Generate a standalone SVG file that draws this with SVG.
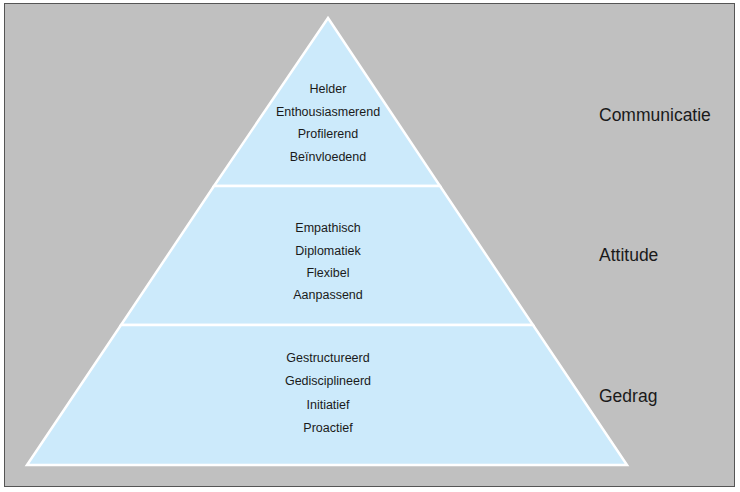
<svg xmlns="http://www.w3.org/2000/svg" width="740" height="492" viewBox="0 0 740 492">
<style>
.t{font-family:"Liberation Sans",Arial,sans-serif;font-size:12.5px;fill:#1a1a1a;text-anchor:middle}
.l{font-family:"Liberation Sans",Arial,sans-serif;font-size:17.5px;fill:#1a1a1a}
.s{fill:#cceafb;stroke:#ffffff;stroke-width:2.5;stroke-linejoin:miter}
</style>
<rect x="0" y="0" width="740" height="492" fill="#ffffff"/>
<rect x="4.5" y="3.5" width="730" height="483" fill="#c0c0c0" stroke="#555" stroke-width="1"/>
<g id="top">
<polygon class="s" points="328,18 440,186 214,186"/>
<text class="t" x="328" y="93">Helder</text>
<text class="t" x="328" y="116">Enthousiasmerend</text>
<text class="t" x="328" y="138">Profilerend</text>
<text class="t" x="328" y="161">Beïnvloedend</text>
</g>
<g id="mid">
<polygon class="s" points="214,186 440,186 533,325 121,325"/>
<text class="t" x="328" y="232">Empathisch</text>
<text class="t" x="328" y="255">Diplomatiek</text>
<text class="t" x="328" y="277">Flexibel</text>
<text class="t" x="328" y="299">Aanpassend</text>
</g>
<g id="bottom">
<polygon class="s" points="121,325 533,325 627,465 27,465"/>
<text class="t" x="328" y="362">Gestructureerd</text>
<text class="t" x="328" y="385">Gedisciplineerd</text>
<text class="t" x="328" y="409">Initiatief</text>
<text class="t" x="328" y="432">Proactief</text>
</g>
<g id="labels">
<text class="l" x="599" y="121">Communicatie</text>
<text class="l" x="599" y="261">Attitude</text>
<text class="l" x="599" y="402">Gedrag</text>
</g>
<g id="connectors"></g>
</svg>
